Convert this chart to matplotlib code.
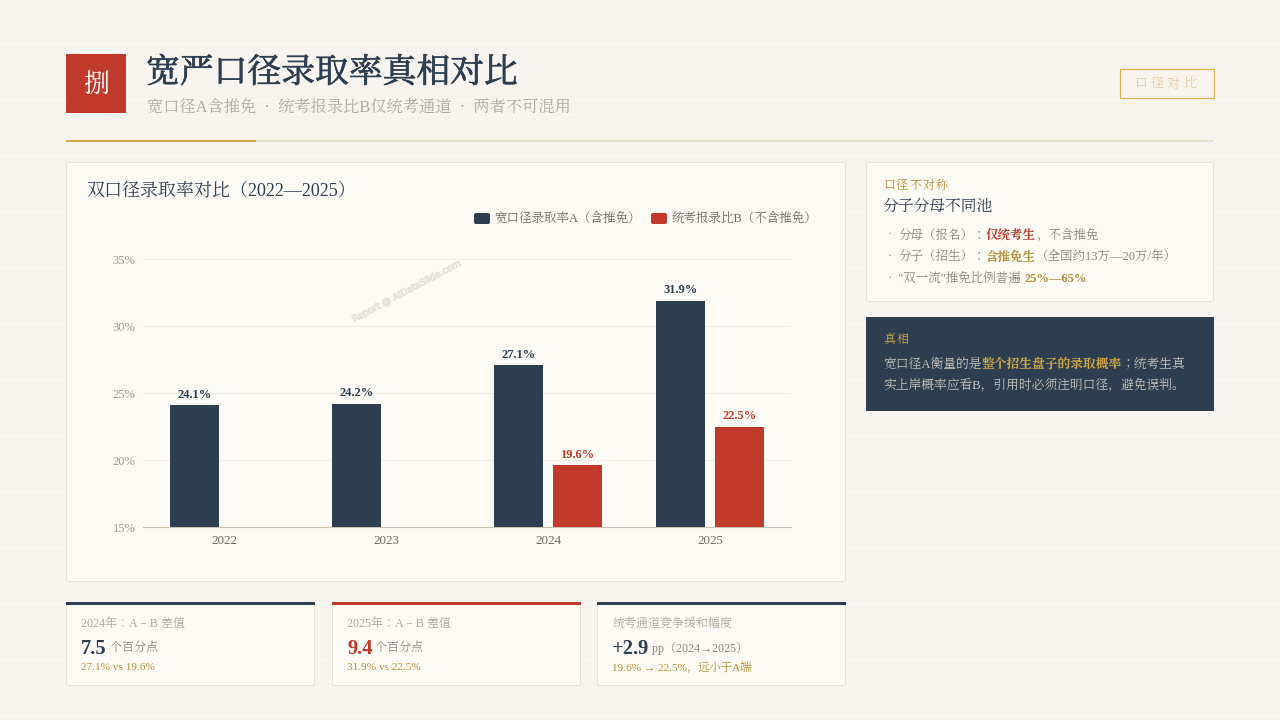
import matplotlib
matplotlib.use('Agg')
import matplotlib.pyplot as plt
from matplotlib.patches import Rectangle, FancyBboxPatch
import matplotlib.patheffects as pe
import numpy as np

plt.rcParams['font.family'] = ['Liberation Serif', 'Noto Serif CJK JP', 'Noto Sans CJK SC', 'DejaVu Sans']

years = ['2022', '2023', '2024', '2025']
rate_a = [24.1, 24.2, 27.1, 31.9]
rate_b = [None, None, 19.6, 22.5]
y_ticks = [15, 20, 25, 30, 35]
legend_a = '宽口径录取率A（含推免）'
legend_b = '统考报录比B（不含推免）'

NAVY = '#2c3e50'; RED = '#c0392b'; GOLD = '#b48c36'; BRIGHT = '#d4a843'
GREY = '#8c8579'; PALE = '#b0a99a'; LINE = '#e8e0d0'; CARD = '#fdfbf6'; BG = '#f8f5f0'

fig = plt.figure(figsize=(12.8, 7.2), dpi=100, facecolor=BG)
bg = fig.add_axes([0, 0, 1, 1], zorder=0)
bg.set_xlim(0, 1280); bg.set_ylim(720, 0); bg.axis('off')
bg.hlines(np.arange(4.5, 720, 7), 0, 1280, color='#f5f2ec', lw=0.72, zorder=0)

DY = 1.5

def px(v):
    return v * 0.72

def T(x, y, s, size, color, ha='left', va='center', weight='normal', ax=bg, **kw):
    return ax.text(x, y + DY, s, fontsize=px(size), color=color, ha=ha, va=va, weight=weight, **kw)

def spaced(x, y, s, size, color, gap, **kw):
    step = size + gap
    for i, ch in enumerate(s):
        T(x + i * step, y, ch, size, color, **kw)

def runs(x, y, parts, size, ax=bg):
    # coloured runs of one line share a baseline and follow one another
    r = fig.canvas.get_renderer()
    for s, c, w in parts:
        t = T(x, y + size * 0.33, s, size, c, weight=w, ax=ax, va='baseline')
        x = bg.transData.inverted().transform(t.get_window_extent(r).get_points())[1][0]
    return x

def card(x0, y0, x1, y1, fc=CARD, ec=LINE, lw=0.72):
    bg.add_patch(Rectangle((x0, y0), x1 - x0, y1 - y0, fc=fc, ec=ec, lw=lw, zorder=1))

# header
bg.add_patch(Rectangle((66, 54), 60, 59, fc=RED, ec='none'))
T(96, 84, '捌', 26, 'white', ha='center')
T(146, 71.5, '宽严口径录取率真相对比', 33.8, NAVY,
  path_effects=[pe.withStroke(linewidth=0.5, foreground=NAVY)])
T(147, 106, '宽口径A含推免  ·  统考报录比B仅统考通道  ·  两者不可混用', 16.2, PALE)
bg.add_patch(Rectangle((66, 140), 1148, 2, fc='#e6dfcc', ec='none'))
bg.add_patch(Rectangle((66, 140), 190, 2, fc=BRIGHT, ec='none'))
bg.add_patch(Rectangle((1120, 69), 93.5, 28.5, fc='none', ec='#dcb45c', lw=0.9))
spaced(1135, 83, '口径对比', 13, '#e3cb95', 3)

# chart card
card(66, 162, 845, 581)
T(86.5, 189.5, '双口径录取率对比（2022—2025）', 18, NAVY)
bg.add_patch(FancyBboxPatch((475, 214), 14, 9, boxstyle='round,pad=1,rounding_size=2', fc=NAVY, ec='none'))
T(494, 217, legend_a, 12.5, '#6f6a60')
bg.add_patch(FancyBboxPatch((652, 214), 14, 9, boxstyle='round,pad=1,rounding_size=2', fc=RED, ec='none'))
T(672, 217, legend_b, 12.5, '#6f6a60')

# bar chart
ax = fig.add_axes([143 / 1280, 1 - 527 / 720, 648 / 1280, 268.5 / 720], zorder=2)
ax.patch.set_alpha(0)
ax.set_xlim(-0.5, 3.5); ax.set_ylim(15, 35.04)
xpos = np.arange(len(years))
w = 48.6 / 162; off = 29.4 / 162
b_vals = [np.nan if v is None else v for v in rate_b]
ax.bar(xpos - off, rate_a, w, color=NAVY, zorder=3)
ax.bar(xpos + off, b_vals, w, color=RED, zorder=3)
for x, v in zip(xpos, rate_a):
    ax.text(x - off, v + 0.32, f'{v:.1f}%', ha='center', va='bottom', fontsize=px(12.5), weight='bold', color=NAVY)
for x, v in zip(xpos, rate_b):
    if v is not None:
        ax.text(x + off, v + 0.32, f'{v:.1f}%', ha='center', va='bottom', fontsize=px(12.5), weight='bold', color=RED)
ax.set_yticks(y_ticks)
ax.set_yticklabels([f'{v}%' for v in y_ticks], fontsize=px(12.5), color='#a39c8e')
ax.set_xticks(xpos)
ax.set_xticklabels(years, fontsize=px(13), color='#6f6a60')
ax.tick_params(axis='both', length=0)
ax.tick_params(axis='y', pad=5.5)
ax.tick_params(axis='x', pad=6)
ax.grid(axis='y', color='#f3eee5', lw=0.8)
ax.set_axisbelow(True)
for s in ['top', 'left', 'right']:
    ax.spines[s].set_visible(False)
ax.spines['bottom'].set_color('#c9c3b6')
ax.spines['bottom'].set_linewidth(0.8)

# watermark
T(406.5, 290, 'Report @ AIDataSlide.com', 9.2, '#eceae4', ha='center', rotation=28,
  rotation_mode='anchor', family='DejaVu Sans', zorder=5,
  path_effects=[pe.withStroke(linewidth=0.7, foreground='#dcd9d3')])

# right card
card(866, 162, 1213, 301)
spaced(883, 184, '口径不对称', 12, GOLD, 1.2)
T(882.5, 205.5, '分子分母不同池', 15.8, NAVY)
for yy in (233, 255, 276):
    T(888, yy, '·', 13, GREY)
runs(898.5, 233, [('分母（报名）：', GREY, 'normal'), ('仅统考生', RED, 'bold'), ('，不含推免', GREY, 'normal')], 12.5)
runs(898.5, 255, [('分子（招生）：', GREY, 'normal'), ('含推免生', GOLD, 'bold'), ('（全国约13万—20万/年）', GREY, 'normal')], 12.5)
runs(898.5, 276, [('"双一流"推免比例普遍 ', GREY, 'normal'), ('25%—65%', GOLD, 'bold')], 12.5)

# dark card
card(866, 317, 1214, 411, fc=NAVY, ec='none')
spaced(883, 338, '真相', 12, BRIGHT, 2)
LT = '#c9c6bf'
runs(883, 362, [('宽口径A衡量的是', LT, 'normal'), ('整个招生盘子的录取概率', BRIGHT, 'bold'), ('；统考生真', LT, 'normal')], 12.8)
T(883, 383, '实上岸概率应看B，引用时必须注明口径，避免误判。', 12.8, LT)

# KPI cards
kpis = [
    (66, NAVY, '2024年：A − B 差值', '7.5', ' 个百分点', '27.1% vs 19.6%'),
    (332, RED, '2025年：A − B 差值', '9.4', ' 个百分点', '31.9% vs 22.5%'),
    (597, NAVY, '统考通道竞争缓和幅度', '+2.9', ' pp（2024→2025）', '19.6% → 22.5%，远小于A端'),
]
for x0, col, lab, big, unit, sub in kpis:
    card(x0, 602, x0 + 248, 685)
    bg.add_patch(Rectangle((x0, 602), 249, 3, fc=col, ec='none'))
    T(x0 + 15, 622, lab, 12, PALE)
    e = runs(x0 + 15, 646, [(big, col, 'bold')], 20.5)
    T(e, 647, unit, 12, GREY)
    T(x0 + 15, 666, sub, 11.3, GOLD)

fig.savefig('out.png', dpi=100, facecolor=BG)
